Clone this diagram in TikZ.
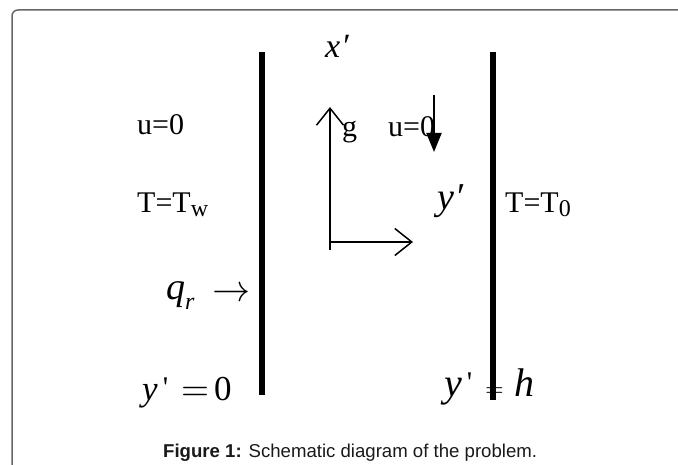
\documentclass[tikz,border=0pt]{standalone}
\usepackage{fontspec}
\setmainfont{Liberation Serif}
\newfontfamily\capfont{Liberation Sans}
\newfontfamily\tickfont[Ligatures=TeXOff]{Liberation Serif}
\newfontfamily\lmm{latinmodern-math.otf}
\usetikzlibrary{arrows.meta}
\definecolor{framegray}{HTML}{666666}
\newcommand{\tick}[1]{\raisebox{#1}{\tickfont\fontsize{30}{30}\selectfont\char"27}}
\newcommand{\sub}[1]{\raisebox{-4pt}{\fontsize{24}{24}\selectfont #1}}
\newcommand{\meq}[1]{{\lmm\fontsize{#1}{#1}\selectfont =}}
\tikzset{
  txt/.style={inner sep=0pt, anchor=base west, font=\fontsize{30}{30}\selectfont},
  mth/.style={inner sep=0pt, anchor=base west, font=\fontsize{35}{35}\selectfont},
  wallline/.style={line width=6pt, line cap=butt},
  axisarrow/.style={line width=1.5pt, -{Straight Barb[length=17pt,width=27pt,line width=1.5pt]}},
  gravarrow/.style={line width=2pt, -{Triangle[length=19pt,width=15pt]}},
  framebox/.style={draw=framegray, line width=1.5pt, rounded corners=6pt},
}
\begin{document}
\begin{tikzpicture}[x=1pt,y=-1pt]
\useasboundingbox (0,0) rectangle (678,465);
% frame (top and left edges visible)
\draw[framebox] (12,466) -- (12,10) -- (679,10);
% walls
\coordinate (lwt) at (262,52);
\coordinate (lwb) at (262,395);
\coordinate (rwt) at (492.5,52);
\coordinate (rwb) at (492.5,400);
\draw[wallline] (lwt) -- (lwb);
\draw[wallline] (rwt) -- (rwb);
% axes
\coordinate (org) at (330,242);
\coordinate (orgl) at (330,250);
\coordinate (xend) at (330,107);
\coordinate (yend) at (413,242);
\draw[axisarrow] (orgl) -- (xend);
\draw[axisarrow] (org) -- (yend);
% gravity arrow
\coordinate (gtop) at (434,95);
\coordinate (gtip) at (434,152);
\draw[gravarrow] (gtop) -- (gtip);
% labels
\node[mth, font=\fontsize{34}{34}\selectfont] (xl) at (325,58) {\textit{x}\kern3pt′};
\node[txt] (u1) at (137,135) {u=0};
\node[txt] (t1) at (137,213) {T=T\sub{w}};
\node[txt] (gl) at (342,137) {g};
\node[txt] (u2) at (388,137) {u=0};
\node[mth, font=\fontsize{38}{38}\selectfont] (yl) at (437,210) {\textit{y}\kern3pt′};
\node[txt] (t2) at (505,213) {T=T\sub{0}};
\node[mth, font=\fontsize{38}{38}\selectfont] (qr) at (166,300) {\textit{q}\raisebox{-0.25em}{\fontsize{24}{24}\selectfont\textit{r}}};
\node[inner sep=0pt, anchor=base west, font=\lmm\fontsize{38}{38}\selectfont] (qarr) at (212,301.5) {→};
\node[mth] (y0) at (142,400) {\textit{y}\kern5pt\tick{3pt}\kern13pt\meq{36}\kern5pt 0};
\node[mth, font=\fontsize{40}{40}\selectfont] (yh) at (444,396) {\textit{y}\kern5pt\tick{4pt}\kern13.5pt\meq{24}\kern10pt\textit{h}};
\node[inner sep=0pt, anchor=base west, font=\capfont\fontsize{18.6}{18.6}\selectfont, text=black!90] (cap) at (163,457) {\textbf{Figure 1:} Schematic diagram of the problem.};
\end{tikzpicture}
\end{document}
